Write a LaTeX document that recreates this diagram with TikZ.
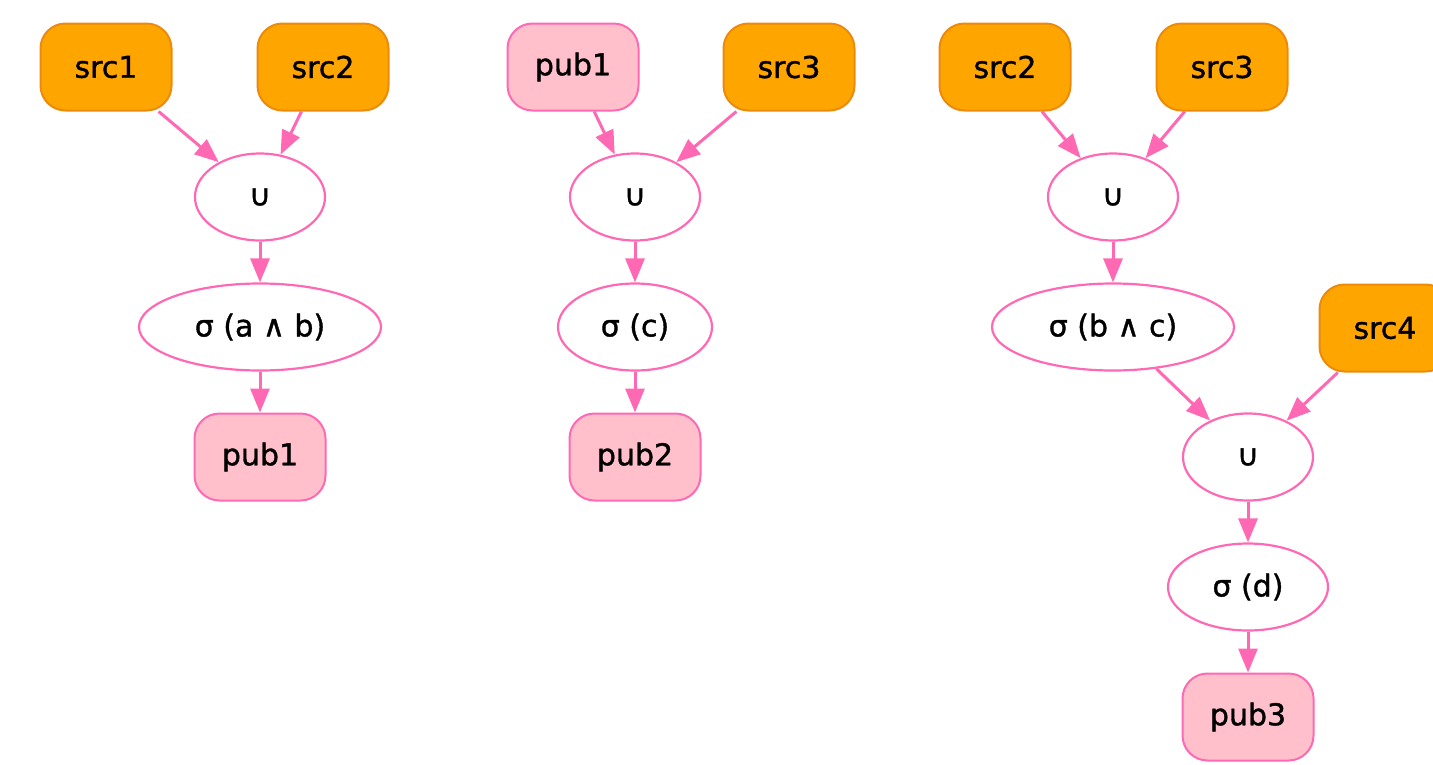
\documentclass[tikz,border=0pt]{standalone}
\usepackage{fontspec}
\setmainfont{DejaVu Sans}[FakeBold=1.2]
\usetikzlibrary{shapes.geometric,arrows.meta}

\definecolor{srcfill}{HTML}{FFA500}
\definecolor{srcline}{HTML}{EC8A0C}
\definecolor{pubfill}{HTML}{FFC0CB}
\definecolor{pinkline}{HTML}{FF69B4}

\tikzset{
  basebox/.style={rectangle, rounded corners=25pt, minimum width=131pt,
    minimum height=87pt, inner sep=0pt, line width=2pt,
    font=\fontsize{30}{36}\selectfont},
  srcbox/.style={basebox, fill=srcfill, draw=srcline},
  pubbox/.style={basebox, fill=pubfill, draw=pinkline},
  opnode/.style={ellipse, draw=pinkline, fill=white, line width=2.2pt,
    minimum height=87pt, inner sep=0pt, font=\fontsize{30}{36}\selectfont},
  unionop/.style={opnode, minimum width=130pt},
  link/.style={draw=pinkline, line width=3pt,
    -{Triangle[length=24pt,width=19pt]}}
}

\begin{document}
\begin{tikzpicture}[x=1pt,y=-1pt]
  \useasboundingbox (0,0) rectangle (1433,764);
  \clip (0,0) rectangle (1433,764);

  % first query
  \node[srcbox] (s1a) at (106,67) {src1};
  \node[srcbox] (s2a) at (323,67) {src2};
  \node[unionop] (u1) at (260,197) {∪};
  \node[opnode, minimum width=242pt] (f1) at (260,327) {σ (a ∧ b)};
  \node[pubbox] (p1) at (260,457) {pub1};
  \draw[link] (s1a) -- (u1);
  \draw[link] (s2a) -- (u1);
  \draw[link] (u1) -- (f1);
  \draw[link] (f1) -- (p1);

  % second query
  \node[pubbox] (p1b) at (573,67) {pub1};
  \node[srcbox] (s3b) at (789,67) {src3};
  \node[unionop] (u2) at (635,197) {∪};
  \node[opnode, minimum width=154pt] (f2) at (635,327) {σ (c)};
  \node[pubbox] (p2) at (635,457) {pub2};
  \draw[link] (p1b) -- (u2);
  \draw[link] (s3b) -- (u2);
  \draw[link] (u2) -- (f2);
  \draw[link] (f2) -- (p2);

  % third query
  \node[srcbox] (s2c) at (1005,67) {src2};
  \node[srcbox] (s3c) at (1222,67) {src3};
  \node[unionop] (u3) at (1113,197) {∪};
  \node[opnode, minimum width=242pt] (f3) at (1113,327) {σ (b ∧ c)};
  \node[srcbox] (s4c) at (1385,328) {src4};
  \node[unionop] (u4) at (1248,457) {∪};
  \node[opnode, minimum width=160pt] (f4) at (1248,587) {σ (d)};
  \node[pubbox] (p3) at (1248,717) {pub3};
  \draw[link] (s2c) -- (u3);
  \draw[link] (s3c) -- (u3);
  \draw[link] (u3) -- (f3);
  \draw[link] (f3) -- (u4);
  \draw[link] (s4c) -- (u4);
  \draw[link] (u4) -- (f4);
  \draw[link] (f4) -- (p3);
\end{tikzpicture}
\end{document}
